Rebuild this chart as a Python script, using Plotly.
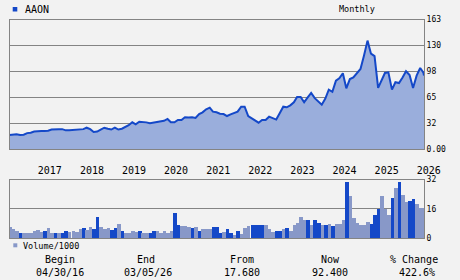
import pandas as pd
import plotly.graph_objects as go

# ---------------- data ----------------
month_ends = pd.date_range("2016-04-30", periods=119, freq="ME")
price_dates = list(month_ends.strftime("%Y-%m-%d")) + ["2026-03-05"]
price = [
    17.7, 18.5, 18.5, 17.6, 18.0, 20.0, 20.5, 22.0, 22.6, 22.6,
    22.6, 23.0, 24.5, 25.0, 25.0, 25.0, 23.5, 23.5, 24.0, 24.5,
    24.5, 25.0, 26.8, 25.0, 21.5, 22.0, 24.5, 26.8, 25.5, 24.5,
    26.8, 24.5, 25.5, 27.5, 30.0, 33.6, 31.0, 34.4, 34.4, 33.5,
    32.3, 33.0, 34.4, 34.4, 35.5, 37.8, 33.6, 33.6, 36.5, 36.5,
    39.9, 39.5, 39.9, 39.0, 44.0, 46.2, 50.0, 52.0, 47.0, 46.2,
    44.5, 44.0, 41.5, 43.5, 45.0, 47.0, 53.3, 53.3, 41.5, 38.6,
    36.5, 33.1, 36.5, 36.5, 40.7, 38.5, 37.0, 45.0, 53.3, 52.5,
    55.0, 58.8, 65.5, 65.5, 58.8, 65.0, 70.5, 64.0, 60.0, 55.8,
    63.5, 74.7, 72.0, 86.0, 89.0, 95.3, 76.4, 88.0, 90.2, 95.0,
    100.7, 117.5, 136.4, 120.0, 117.0, 77.0, 85.0, 95.7, 96.5, 74.7,
    84.0, 83.0, 90.0, 97.8, 93.0, 76.8, 92.3, 102.0, 96.0, 92.4,
]
vol_dates = list(month_ends.strftime("%Y-%m-%d"))
volume = [
    6.4, 5.3, 4.2, 3.1, 3.1, 3.4, 3.4, 4.2, 4.7, 3.8,
    4.2, 5.8, 3.1, 3.4, 3.4, 3.1, 4.5, 3.8, 4.2, 3.8,
    5.1, 5.8, 4.7, 6.2, 5.3, 11.6, 6.2, 5.3, 5.8, 4.7,
    5.8, 8.3, 4.0, 2.9, 2.9, 4.0, 3.6, 4.5, 2.9, 3.4,
    3.4, 4.0, 4.5, 3.4, 4.5, 3.1, 4.0, 14.3, 7.3, 6.7,
    6.7, 6.2, 5.8, 6.2, 4.5, 5.6, 5.6, 5.6, 6.4, 6.2,
    3.3, 3.6, 5.1, 3.3, 1.8, 4.5, 2.5, 5.8, 6.7, 7.3,
    7.3, 7.3, 7.3, 7.3, 5.1, 3.6, 4.0, 4.0, 5.4, 5.8,
    4.5, 7.3, 8.5, 11.6, 10.0, 10.0, 7.3, 10.0, 8.7, 7.3,
    7.3, 8.2, 6.9, 8.2, 8.2, 10.0, 30.9, 23.2, 11.3, 8.5,
    7.3, 7.3, 9.4, 7.8, 12.7, 16.2, 23.2, 16.3, 12.7, 22.0,
    27.6, 30.9, 23.6, 20.0, 20.5, 21.4, 19.1, 16.7, 16.7,
]
vol_dir = list(
    "LLLDLLLLLLDLLDLDDLLLLDLLDDLLLDDLDLLLLDLLDDLLLLLDDLLLDLDLLLD"
    "DDLD"
    "DLDLLLDDDDLLLDDLDLLLLLDLDDLDLDLLLDLLLLLLDDDLLLDLDLLDDLLL"
)
years = list(range(2017, 2027))
year_labels = [str(y) for y in years]
price_tick_vals = [0, 32.6, 65.2, 97.8, 130.4, 163]
price_tick_text = ["0.00", "32", "65", "98", "130", "163"]
vol_tick_vals = [0, 16, 32]
vol_tick_text = ["0", "16", "32"]
ticker = "AAON"
period = "Monthly"
summary = [("Begin", "04/30/16"), ("End", "03/05/26"), ("From", "17.680"),
           ("Now", "92.400"), ("% Change", "422.6%")]

# ---------------- style ----------------
W, H = 460, 280
def px(x):
    return x / W
def py(y):
    return 1 - y / H

BG = "#f2f2f2"
GRID = "#848484"
LINE = "#1448c8"
FILL = "#9aaedc"
DARK = "#1448c8"
LIGHT = "#8898c8"
FONT = "DejaVu Sans Mono"

fig = go.Figure()
fig.add_trace(go.Scatter(
    x=price_dates, y=price, mode="lines",
    line=dict(color=LINE, width=2), fill="tozeroy", fillcolor=FILL,
    xaxis="x", yaxis="y", hoverinfo="skip"))
fig.add_trace(go.Bar(
    x=vol_dates, y=volume,
    marker=dict(color=[DARK if d == "D" else LIGHT for d in vol_dir], line_width=0),
    width=30.5 * 86400000, xaxis="x2", yaxis="y2", hoverinfo="skip"))

xr = ["2016-04-30", "2026-03-05"]
xdom = [px(9.5), px(424)]
tf = dict(family=FONT, size=8, color="black")
fig.update_layout(
    width=W, height=H, margin=dict(l=0, r=0, t=0, b=0, autoexpand=False),
    paper_bgcolor=BG, plot_bgcolor=BG, showlegend=False, bargap=0,
    xaxis=dict(domain=xdom, range=xr, anchor="y", automargin=False,
               tickvals=[f"{y}-01-01" for y in years], ticktext=year_labels,
               ticks="outside", ticklen=12, tickcolor="rgba(0,0,0,0)",
               ticklabelshift=12,
               tickfont=dict(family=FONT, size=10, color="black"),
               showgrid=False, zeroline=False, showline=True, mirror=True,
               linecolor=GRID, linewidth=1),
    yaxis=dict(domain=[py(149), py(19.5)], range=[0, 163], side="right",
               automargin=False,
               tickvals=price_tick_vals, ticktext=price_tick_text, tickfont=tf,
               showgrid=True, gridcolor=GRID, gridwidth=1, zeroline=False,
               showline=True, mirror=True, linecolor=GRID, linewidth=1),
    xaxis2=dict(domain=xdom, range=xr, anchor="y2", showticklabels=False,
                automargin=False,
                showgrid=False, zeroline=False, showline=True, mirror=True,
                linecolor=GRID, linewidth=1),
    yaxis2=dict(domain=[py(238.3), py(179.5)], range=[0, 32], side="right",
                automargin=False,
                tickvals=vol_tick_vals, ticktext=vol_tick_text, tickfont=tf,
                showgrid=True, gridcolor=GRID, gridwidth=1, zeroline=False,
                showline=True, mirror=True, linecolor=GRID, linewidth=1),
)

shapes = [
    dict(type="rect", xref="paper", yref="paper", x0=px(12.7), x1=px(17.3),
         y0=py(11.5), y1=py(7), fillcolor=DARK, line_width=0),
    dict(type="rect", xref="paper", yref="paper", x0=px(13.3), x1=px(17.3),
         y0=py(247.3), y1=py(243.3), fillcolor=LIGHT, line_width=0),
]
fig.update_layout(shapes=shapes)

ann = []
def add_text(x, y, text, size, anchor="center"):
    ann.append(dict(xref="paper", yref="paper", x=px(x), y=py(y), text=text,
                    showarrow=False, xanchor=anchor, yanchor="middle",
                    font=dict(family=FONT, size=size, color="black")))

add_text(22.5, 9, ticker, 10, "left")
add_text(357, 9, period, 8.5)
add_text(20.5, 245.5, "Volume/1000", 8.5, "left")
centers = [(60.5, 59.5), (146.3, 147.5), (241.5, 242.3), (330.3, 329.5), (414, 417)]
for (lbl, val), (cx1, cx2) in zip(summary, centers):
    add_text(cx1, 259.5, lbl, 10)
    add_text(cx2, 272.5, val, 10)
fig.update_layout(annotations=ann)

fig.write_html("out.html")
